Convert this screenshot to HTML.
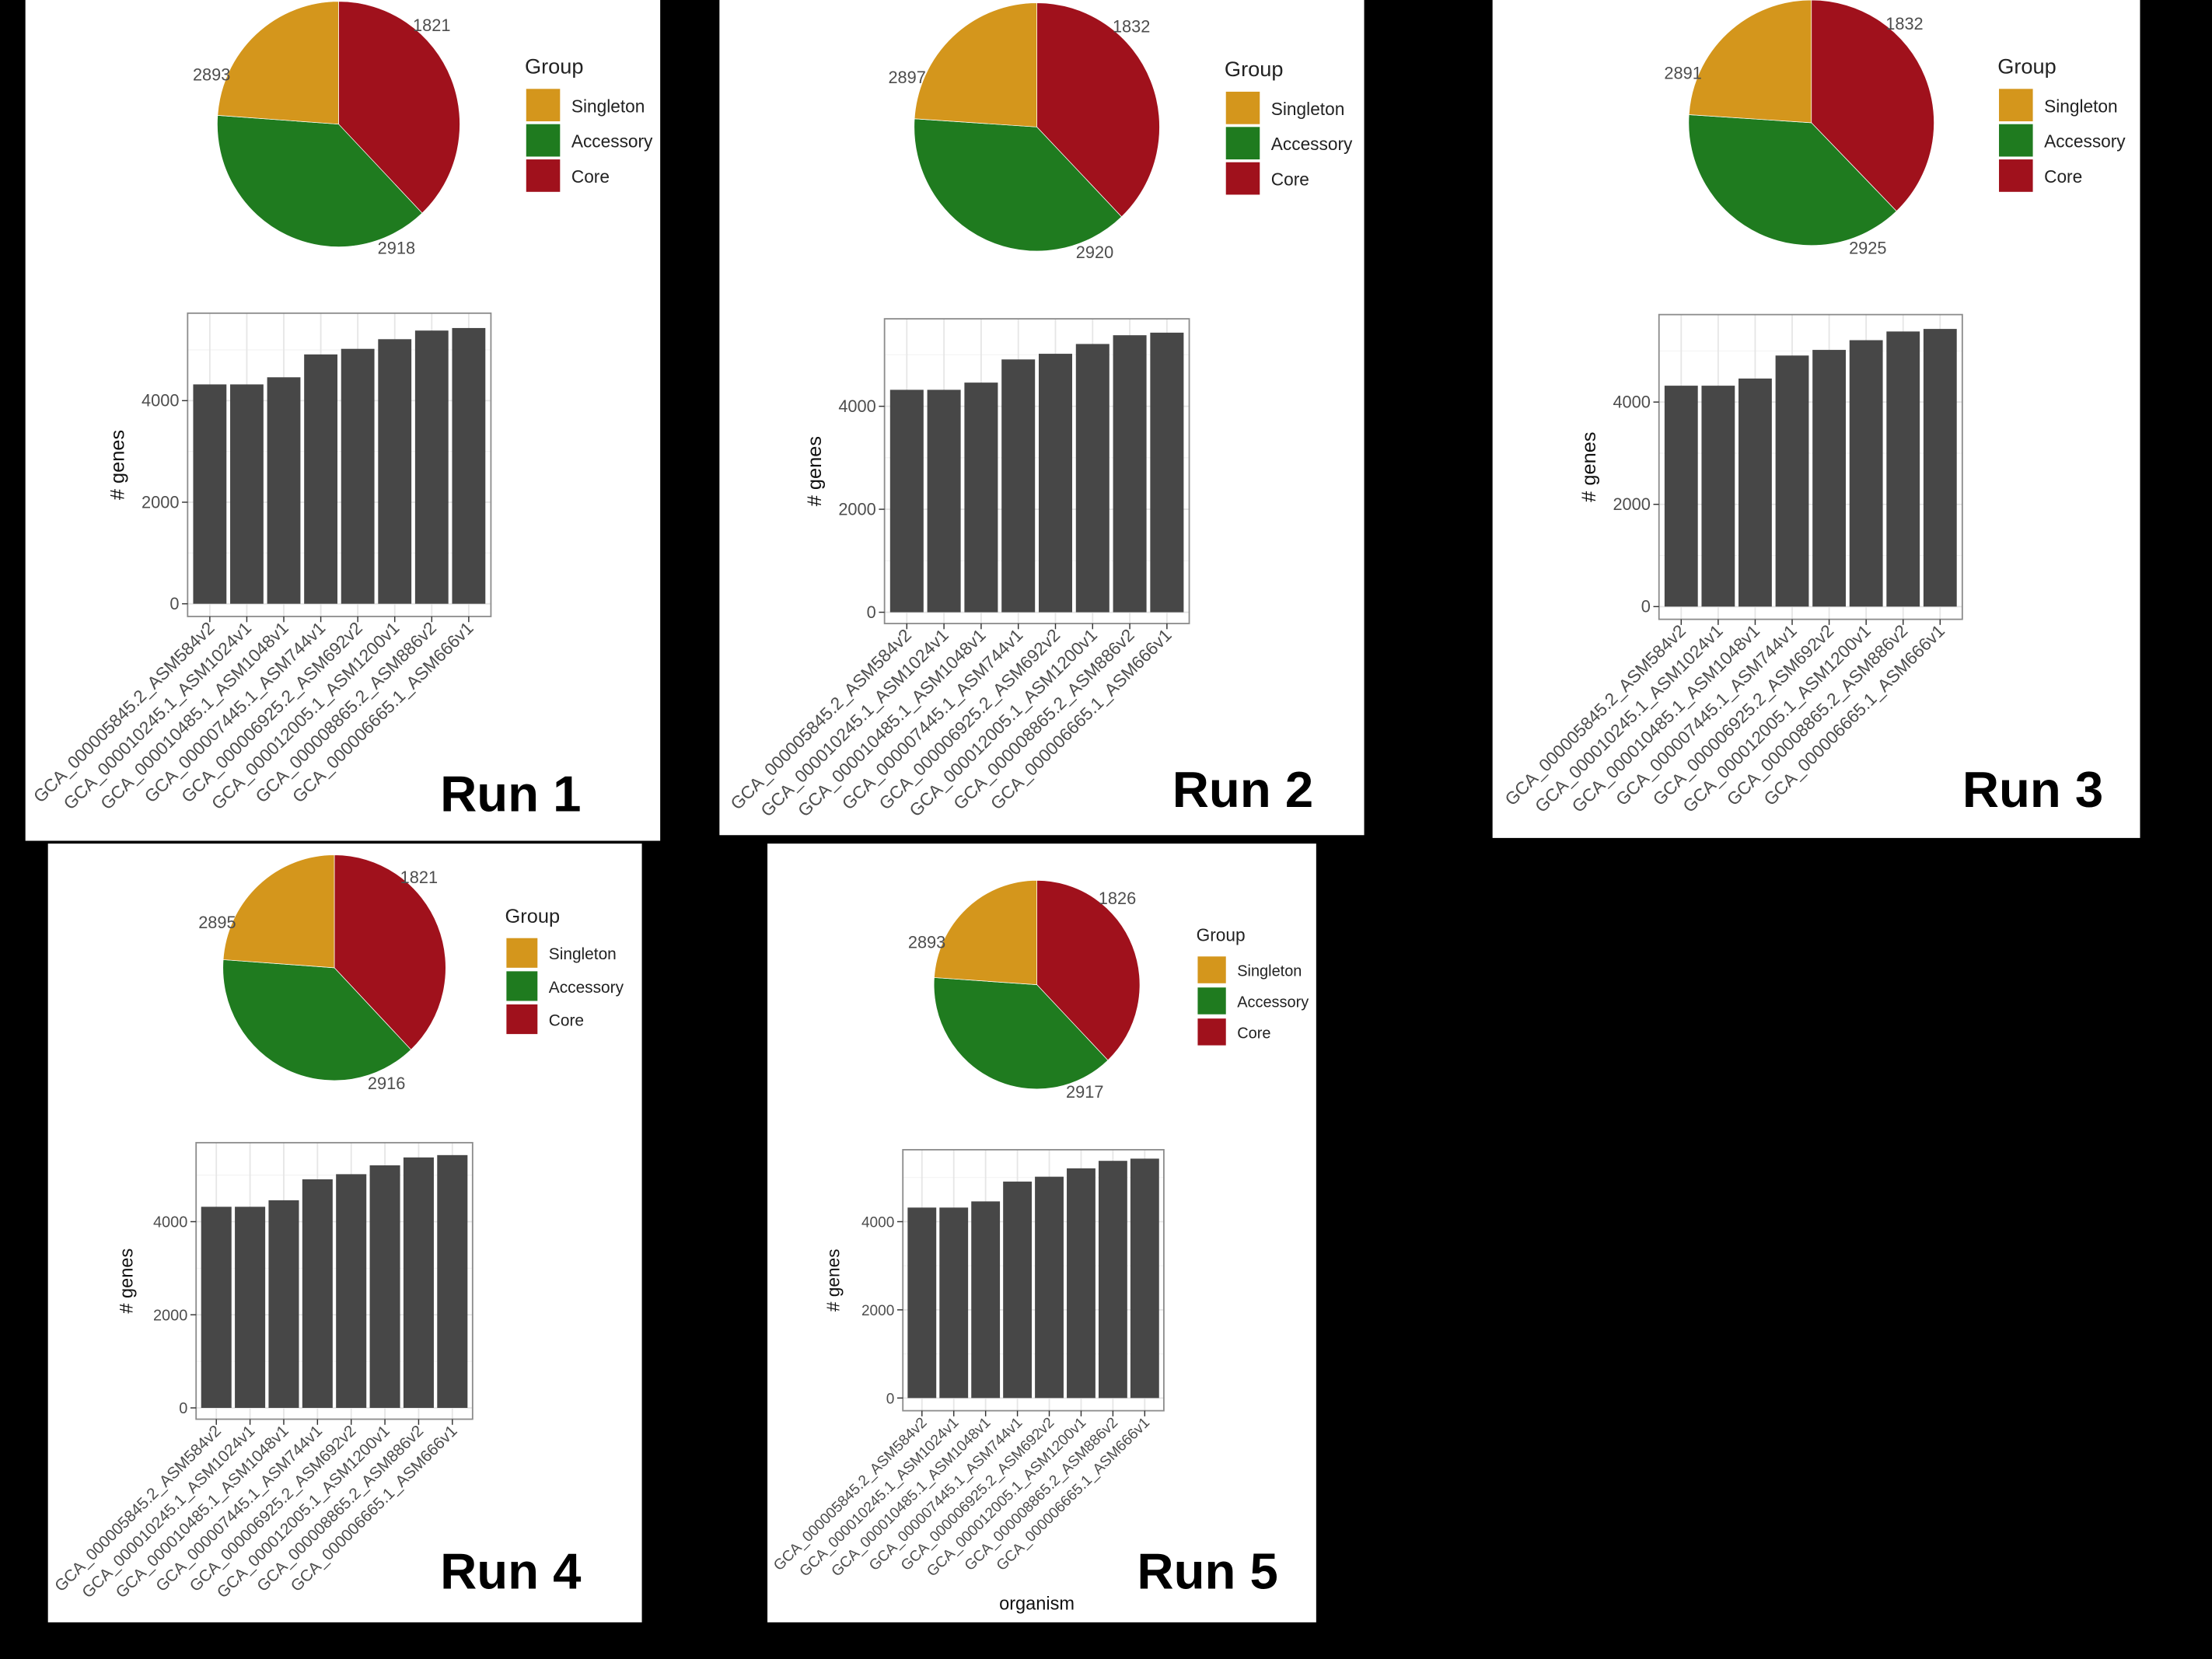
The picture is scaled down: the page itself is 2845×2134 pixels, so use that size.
<!DOCTYPE html>
<html><head><meta charset="utf-8"><style>
html,body{margin:0;padding:0;background:#000;}
svg{display:block;font-family:"Liberation Sans",sans-serif;}
</style></head><body>
<svg id="fig" width="2845" height="2134" viewBox="0 0 1568 1176" preserveAspectRatio="none" xmlns="http://www.w3.org/2000/svg">
<rect x="0" y="0" width="1568" height="1176" fill="#000"/>
</svg>
<script>
// ---- data ----
const categories = ["GCA_000005845.2_ASM584v2","GCA_000010245.1_ASM1024v1","GCA_000010485.1_ASM1048v1","GCA_000007445.1_ASM744v1","GCA_000006925.2_ASM692v2","GCA_000012005.1_ASM1200v1","GCA_000008865.2_ASM886v2","GCA_000006665.1_ASM666v1"];
const geneCounts = [4320, 4320, 4460, 4910, 5020, 5210, 5380, 5430];
const yTicks = [0, 2000, 4000];
const runNames = ["Run 1","Run 2","Run 3","Run 4","Run 5"];
const singletonValues = [1821, 1832, 1832, 1821, 1826];
const accessoryValues = [2918, 2920, 2925, 2916, 2917];
const coreValues = [2893, 2897, 2891, 2895, 2893];
const groupNames = ["Singleton","Accessory","Core"];
const groupColors = ["#D4961C","#1F7B1F","#A0111C"];

// ---- layout (preview units) ----
const layouts = [
 {bg:[18,0,450,596], pie:[240,88,86,87], lab:[[306,22],[150,57],[281,180]], leg:[372,52,24,25,15,12.5], bar:[133,222,348,437,428,284], tf:11, xf:12.5, run:[312,575,36], org:null},
 {bg:[510,0,457,592], pie:[735,90,87,88], lab:[[802,23],[643,59],[776,183]], leg:[868,54,24,25,15,12.5], bar:[627,226,843,442,434,288], tf:11, xf:12.5, run:[831,572,36], org:null},
 {bg:[1058,0,459,594], pie:[1284,87,87,87], lab:[[1350,21],[1193,56],[1324,180]], leg:[1416,52,24,25,15,12.5], bar:[1176,223,1391,439,430,285], tf:11, xf:12.5, run:[1391,572,36], org:null},
 {bg:[34,598,421,552], pie:[237,686,79,80], lab:[[297,626],[154,658],[274,772]], leg:[358,654,22,23.5,14,11.5], bar:[139,810,335,1006,998,866], tf:10, xf:11.5, run:[312,1126,36], org:null},
 {bg:[544,598,389,552], pie:[735,698,73,74], lab:[[792,641],[657,672],[769,778]], leg:[848,667,20,22,12.5,11], bar:[640,815,825,1000,991,866], tf:9.5, xf:10.6, run:[806,1126,36], org:[735,1141]}
];
const NS = "http://www.w3.org/2000/svg";
const svg = document.getElementById("fig");
function mk(tag, attrs, parent, text){
  const e = document.createElementNS(NS, tag);
  for (const k in attrs) e.setAttribute(k, attrs[k]);
  if (text !== undefined) e.textContent = text;
  parent.appendChild(e);
  return e;
}
layouts.forEach((L, r) => {
  const g = mk("g", {}, svg);
  
  
  const bgr = mk("rect", {x:L.bg[0], y:L.bg[1], width:L.bg[2], height:L.bg[3], fill:"#fff"}, g);
  
  
  const vals = [coreValues[r], accessoryValues[r], singletonValues[r]];
  const cols = [groupColors[2], groupColors[1], groupColors[0]];
  const names = ["core","accessory","singleton"];
  const total = vals.reduce((a,b)=>a+b,0);
  const [cx, cy, rx, ry] = L.pie;
  let a0 = 0;
  vals.forEach((v, i) => {
    const a1 = a0 + v/total*2*Math.PI;
    const x0 = cx + rx*Math.sin(a0), y0 = cy - ry*Math.cos(a0);
    const x1 = cx + rx*Math.sin(a1), y1 = cy - ry*Math.cos(a1);
    const large = (a1-a0) > Math.PI ? 1 : 0;
    const p = mk("path", {d:`M${cx},${cy} L${x0},${y0} A${rx},${ry} 0 ${large} 1 ${x1},${y1} Z`, fill:cols[i], stroke:"#fff", "stroke-width":0.4}, g);
    
    
    a0 = a1;
  });
  const labVals = [singletonValues[r], coreValues[r], accessoryValues[r]];
  labVals.forEach((v, i) => {
    const t = mk("text", {x:L.lab[i][0], y:L.lab[i][1], "font-size":12, fill:"#4d4d4d", "text-anchor":"middle"}, g, String(v));
    
    
  });
  const [lx, ly, ks, kstep, tfs, lfs] = L.leg;
  const lt = mk("text", {x:lx, y:ly, "font-size":tfs, fill:"#222"}, g, "Group");
  
  
  groupNames.forEach((n, i) => {
    const ky = ly + 11 + i*kstep;
    const k = mk("rect", {x:lx+1, y:ky, width:ks, height:ks-1, fill:groupColors[i]}, g);
    
    
    const t = mk("text", {x:lx+ks+9, y:ky+ks/2+lfs*0.36, "font-size":lfs, fill:"#222"}, g, n);
    
    
  });
  const [px0, py0, px1, py1, yZero, y4000] = L.bar;
  const perUnit = (yZero - y4000)/4000;
  const yS = v => yZero - v*perUnit;
  const n = categories.length;
  const step = (px1 - px0)/(n + 0.2);
  const xS = i => px0 + step*0.6 + i*step;
  const bw = step*0.9;
  [1000,3000,5000].forEach(v => {
    if (yS(v) > py0) { const l = mk("line", {x1:px0, x2:px1, y1:yS(v), y2:yS(v), stroke:"#f2f2f2", "stroke-width":0.6}, g);
        }
  });
  yTicks.forEach(v => {
    const l = mk("line", {x1:px0, x2:px1, y1:yS(v), y2:yS(v), stroke:"#e6e6e6", "stroke-width":1}, g);
    
    
  });
  categories.forEach((c, i) => {
    const l = mk("line", {x1:xS(i), x2:xS(i), y1:py0, y2:py1, stroke:"#e6e6e6", "stroke-width":1}, g);
    
    
  });
  geneCounts.forEach((v, i) => {
    const b = mk("rect", {x:xS(i)-bw/2, y:yS(v), width:bw, height:yS(0)-yS(v), fill:"#474747"}, g);
    
    
  });
  const fr = mk("rect", {x:px0, y:py0, width:px1-px0, height:py1-py0, fill:"none", stroke:"#8c8c8c", "stroke-width":1}, g);
  
  
  yTicks.forEach(v => {
    const tk = mk("line", {x1:px0-4, x2:px0, y1:yS(v), y2:yS(v), stroke:"#333", "stroke-width":0.8}, g);
    
    
    const t = mk("text", {x:px0-6, y:yS(v)+4, "font-size":L.tf+1, fill:"#4d4d4d", "text-anchor":"end"}, g, String(v));
    
    
  });
  categories.forEach((c, i) => {
    const tk = mk("line", {x1:xS(i), x2:xS(i), y1:py1, y2:py1+4, stroke:"#333", "stroke-width":0.8}, g);
    
    
    const tx = xS(i)+4, ty = py1+9;
    const t = mk("text", {x:tx, y:ty, "font-size":L.xf, fill:"#4d4d4d", "text-anchor":"end", transform:`rotate(-45 ${tx} ${ty})`}, g, c);
    
    
  });
  const yx = px0 - 45, yy = (py0+py1)/2;
  const yt = mk("text", {x:yx, y:yy, "font-size":L.tf+3, fill:"#111", "text-anchor":"middle", transform:`rotate(-90 ${yx} ${yy})`}, g, "# genes");
  
  
  if (L.org) {
    const o = mk("text", {x:L.org[0], y:L.org[1], "font-size":13, fill:"#111", "text-anchor":"middle"}, g, "organism");
    
    
  }
  const rt = mk("text", {x:L.run[0], y:L.run[1], "font-size":L.run[2], "font-weight":"bold", fill:"#000"}, g, runNames[r]);
  
  
});
</script>
</body></html>
